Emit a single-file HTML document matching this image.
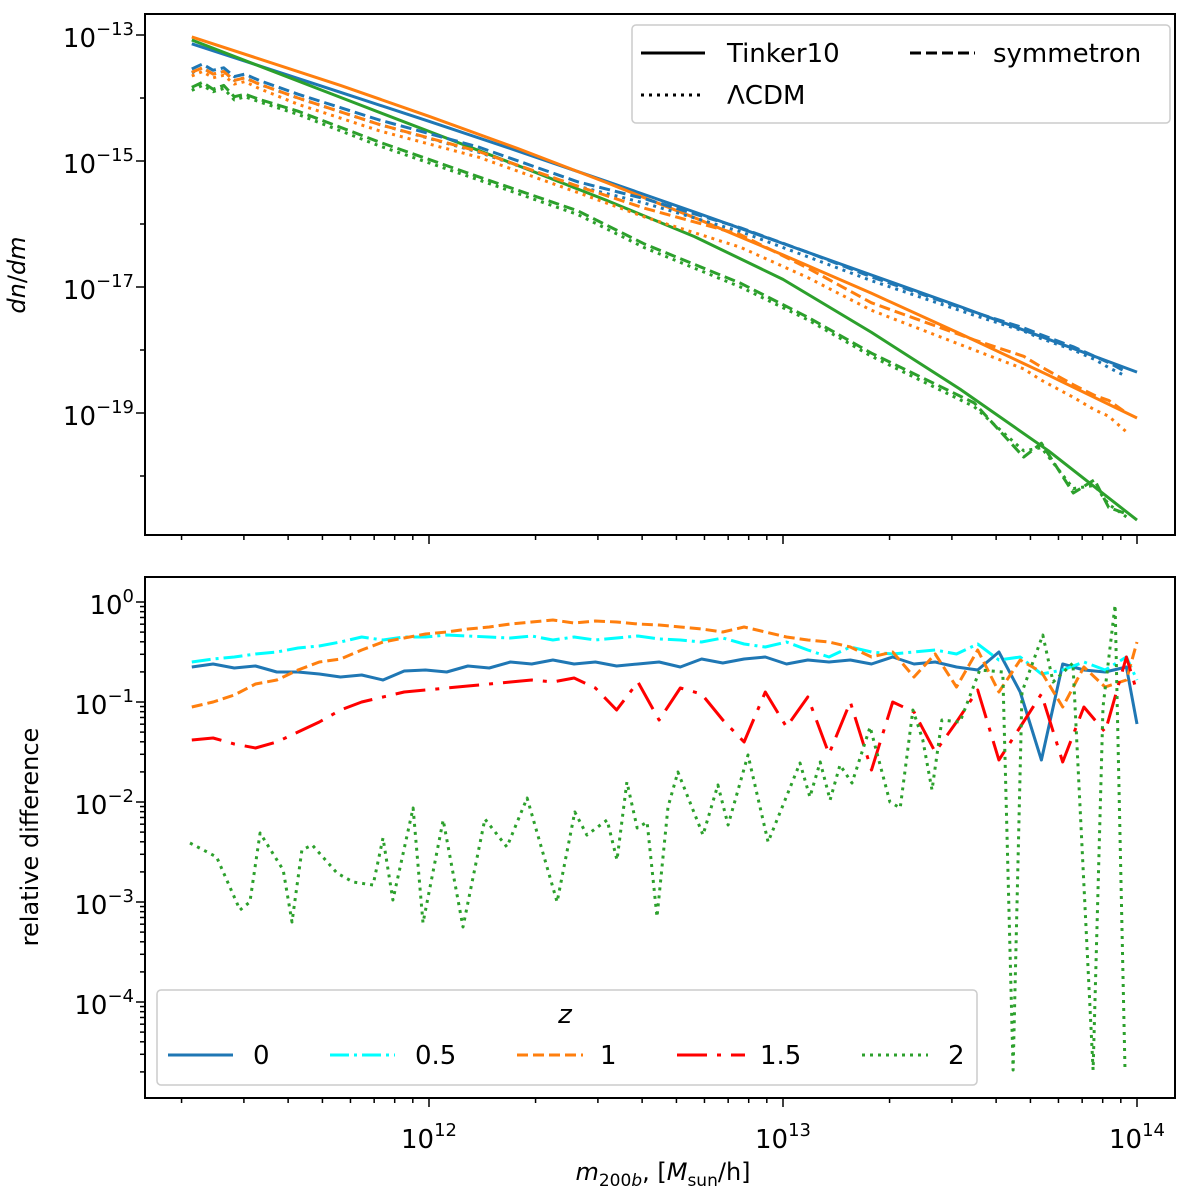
<!DOCTYPE html>
<html><head><meta charset="utf-8"><style>
body{margin:0;background:#fff}
svg{font-family:"DejaVu Sans","Liberation Sans",sans-serif}
</style></head><body>
<svg id="c" width="1200" height="1190" viewBox="0 0 1200 1190" xmlns="http://www.w3.org/2000/svg"></svg>
<script>
// ---- data ----
const tinkerMass=[11.33,11.75,12,12.25,12.5,12.75,13,13.25,13.5,13.75,14];
const tinkerZ0=[-13.14,-13.91,-14.37,-14.84,-15.32,-15.81,-16.31,-16.81,-17.31,-17.83,-18.35];
const tinkerZ1=[-13.03,-13.80,-14.29,-14.80,-15.34,-15.90,-16.49,-17.10,-17.74,-18.40,-19.08];
const tinkerZ2=[-13.08,-13.99,-14.53,-15.07,-15.62,-16.2,-16.88,-17.72,-18.62,-19.6,-20.7];
const simMass=[11.33,11.36,11.39,11.42,11.45,11.48,11.52,11.63,11.86,12.14,12.42,12.61,12.88,13.07,13.25,13.54,13.68,13.73,13.82,13.88,13.92,13.97];
const symZ0=[-13.54,-13.46,-13.56,-13.52,-13.66,-13.62,-13.72,-13.94,-14.35,-14.78,-15.33,-15.6,-16.06,-16.45,-16.84,-17.4,-17.65,-17.76,-17.95,-18.1,-18.2,-18.35];
const lcdmZ0=[-13.6,-13.52,-13.62,-13.58,-13.72,-13.68,-13.78,-14.0,-14.42,-14.86,-15.4,-15.67,-16.12,-16.52,-16.9,-17.45,-17.7,-17.82,-18.0,-18.15,-18.28,-18.42];
const symZ1=[-13.59,-13.52,-13.62,-13.58,-13.72,-13.68,-13.78,-14.0,-14.42,-14.85,-15.4,-15.75,-16.17,-16.7,-17.25,-17.84,-18.1,-18.27,-18.55,-18.72,-18.8,-19.0];
const lcdmZ1=[-13.65,-13.58,-13.68,-13.64,-13.78,-13.74,-13.85,-14.1,-14.52,-14.94,-15.5,-15.89,-16.37,-16.85,-17.37,-18.0,-18.3,-18.48,-18.75,-18.95,-19.05,-19.3];
const symZ2=[-13.83,-13.75,-13.86,-13.8,-13.98,-13.94,-14.02,-14.21,-14.7,-15.25,-15.79,-16.32,-16.94,-17.48,-18.05,-18.84,-19.7,-19.48,-20.27,-20.06,-20.5,-20.6];
const lcdmZ2=[-13.88,-13.8,-13.9,-13.85,-14.03,-13.98,-14.06,-14.26,-14.76,-15.3,-15.85,-16.38,-17.0,-17.52,-18.1,-18.9,-19.6,-19.55,-20.2,-20.15,-20.45,-20.65];
const relMass=[11.33,11.39,11.45,11.51,11.57,11.63,11.69,11.75,11.81,11.87,11.93,11.99,12.05,12.11,12.17,12.23,12.29,12.35,12.41,12.47,12.53,12.59,12.65,12.71,12.77,12.83,12.89,12.95,13.01,13.07,13.13,13.19,13.25,13.31,13.37,13.43,13.49,13.55,13.61,13.67,13.73,13.79,13.85,13.91,13.97,14.0];
const relZ0=[-0.65,-0.62,-0.66,-0.64,-0.70,-0.70,-0.72,-0.75,-0.73,-0.78,-0.69,-0.68,-0.70,-0.64,-0.66,-0.60,-0.62,-0.58,-0.62,-0.60,-0.64,-0.62,-0.60,-0.65,-0.57,-0.61,-0.57,-0.55,-0.62,-0.58,-0.60,-0.58,-0.62,-0.55,-0.62,-0.60,-0.65,-0.68,-0.50,-0.90,-1.58,-0.62,-0.68,-0.70,-0.65,-1.22];
const relZ05=[-0.60,-0.57,-0.55,-0.52,-0.50,-0.46,-0.44,-0.40,-0.35,-0.38,-0.35,-0.35,-0.33,-0.34,-0.35,-0.36,-0.34,-0.38,-0.35,-0.38,-0.36,-0.34,-0.37,-0.38,-0.40,-0.36,-0.42,-0.45,-0.40,-0.48,-0.55,-0.45,-0.50,-0.52,-0.50,-0.48,-0.52,-0.42,-0.58,-0.55,-0.72,-0.68,-0.60,-0.68,-0.55,-0.78];
const relZ1=[-1.05,-1.0,-0.93,-0.82,-0.78,-0.68,-0.60,-0.57,-0.48,-0.40,-0.36,-0.32,-0.30,-0.27,-0.25,-0.22,-0.20,-0.18,-0.21,-0.19,-0.20,-0.22,-0.23,-0.25,-0.27,-0.30,-0.25,-0.30,-0.35,-0.38,-0.40,-0.45,-0.55,-0.50,-0.75,-0.52,-0.85,-0.48,-0.90,-0.58,-0.70,-1.05,-0.65,-0.85,-0.78,-0.40];
const relZ15=[-1.38,-1.36,-1.42,-1.46,-1.40,-1.30,-1.20,-1.08,-1.00,-0.95,-0.90,-0.88,-0.86,-0.84,-0.82,-0.80,-0.78,-0.80,-0.76,-0.86,-1.08,-0.80,-1.18,-0.86,-0.92,-1.18,-1.40,-0.90,-1.25,-0.95,-1.52,-1.00,-1.68,-1.00,-1.10,-1.50,-1.20,-0.88,-1.58,-1.25,-0.92,-1.60,-1.05,-1.30,-0.55,-0.90];
const relMassZ2=[11.325,11.40,11.466,11.494,11.523,11.588,11.613,11.641,11.67,11.74,11.785,11.842,11.87,11.898,11.955,11.983,12.04,12.096,12.158,12.22,12.277,12.362,12.412,12.446,12.503,12.531,12.559,12.588,12.616,12.644,12.675,12.703,12.774,12.816,12.845,12.901,12.958,13.048,13.076,13.105,13.133,13.161,13.195,13.246,13.302,13.331,13.367,13.395,13.421,13.449,13.5,13.556,13.621,13.65,13.675,13.734,13.763,13.819,13.876,13.904,13.938,13.966];
const relZ2=[-2.41,-2.55,-3.08,-3.0,-2.31,-2.68,-3.2,-2.48,-2.43,-2.71,-2.8,-2.83,-2.36,-2.98,-2.06,-3.21,-2.18,-3.25,-2.17,-2.45,-1.96,-3.0,-2.1,-2.33,-2.18,-2.58,-1.8,-2.26,-2.2,-3.15,-2.05,-1.7,-2.33,-1.83,-2.23,-1.53,-2.4,-1.61,-1.95,-1.6,-1.98,-1.63,-1.81,-1.25,-2.0,-2.06,-1.08,-1.38,-1.88,-1.18,-1.2,-0.68,-0.7,-4.68,-0.9,-0.33,-0.8,-0.61,-4.68,-1.05,-0.03,-4.68];
const xTickExp=[12,13,14];
const topYTickExp=[-13,-15,-17,-19];
const botYTickExp=[0,-1,-2,-3,-4];

// ---- axes ----
const NS='http://www.w3.org/2000/svg';
const svg=document.getElementById('c');
const L=145,R=1175,T1=14,B1=535,T2=577,B2=1098;
const xs=m=>429+(m-12)*354;
const yTop=v=>35+(-13-v)*63;
const yBot=v=>602-v*100;
function mk(tag,attrs,parent){const e=document.createElementNS(NS,tag);for(const k in attrs)e.setAttribute(k,attrs[k]);(parent||svg).appendChild(e);return e;}
const clip=mk('defs',{});
const c1=mk('clipPath',{id:'cl1'},clip);mk('rect',{x:L,y:T1,width:R-L,height:B1-T1},c1);
const c2=mk('clipPath',{id:'cl2'},clip);mk('rect',{x:L,y:T2,width:R-L,height:B2-T2},c2);
const C='#1f77b4',O='#ff7f0e',G='#2ca02c',CY='#00ffff',RD='#ff0000';
const DASH='11,5',DOT='3,5',DASHDOT='19,5,3,5',LONGDD='30,10,4,10';
function line(xsArr,ys,yf,color,dash,name,clipId){
  const pts=xsArr.map((m,i)=>xs(m).toFixed(1)+','+yf(ys[i]).toFixed(1)).join(' ');
  const p=mk('polyline',{points:pts,fill:'none',stroke:color,'stroke-width':3,'stroke-dasharray':dash||'none','clip-path':'url(#'+clipId+')','stroke-linejoin':'round'});
  
  
}
function txt(x,y,s,size,anchor,name,extra){
  const t=mk('text',Object.assign({x:x,y:y,'font-size':size,'text-anchor':anchor||'start',fill:'#000'},extra||{}));
  t.innerHTML=s;
  
  
  return t;
}
// top series
line(tinkerMass,tinkerZ0,yTop,C,null,'tinker-z0','cl1');
line(tinkerMass,tinkerZ1,yTop,O,null,'tinker-z1','cl1');
line(tinkerMass,tinkerZ2,yTop,G,null,'tinker-z2','cl1');
line(simMass,symZ0,yTop,C,DASH,'symmetron-z0','cl1');
line(simMass,lcdmZ0,yTop,C,DOT,'lcdm-z0','cl1');
line(simMass,symZ1,yTop,O,DASH,'symmetron-z1','cl1');
line(simMass,lcdmZ1,yTop,O,DOT,'lcdm-z1','cl1');
line(simMass,symZ2,yTop,G,DASH,'symmetron-z2','cl1');
line(simMass,lcdmZ2,yTop,G,DOT,'lcdm-z2','cl1');
// bottom series
line(relMass,relZ0,yBot,C,null,'reldiff-z0','cl2');
line(relMass,relZ05,yBot,CY,DASHDOT,'reldiff-z0.5','cl2');
line(relMass,relZ1,yBot,O,DASH,'reldiff-z1','cl2');
line(relMass,relZ15,yBot,RD,LONGDD,'reldiff-z1.5','cl2');
line(relMassZ2,relZ2,yBot,G,DOT,'reldiff-z2','cl2');

// frames
[[T1,B1,'top-axes-frame'],[T2,B2,'bottom-axes-frame']].forEach(([t,b,n])=>{
  const r=mk('rect',{x:L,y:t,width:R-L,height:b-t,fill:'none',stroke:'#000','stroke-width':2});
  
});
// x ticks
for(let d=11;d<=14;d++){for(let k=1;k<10;k++){const m=d+Math.log10(k);const x=xs(m);if(x<L||x>R)continue;
  const len=k===1?9:5;
  mk('line',{x1:x,y1:B1,x2:x,y2:B1+len,stroke:'#000','stroke-width':1.5});
  mk('line',{x1:x,y1:B2,x2:x,y2:B2+len,stroke:'#000','stroke-width':1.5});}}
xTickExp.forEach(e=>{txt(xs(e),1148,'10<tspan font-size="18" dy="-12">'+e+'</tspan>',26,'middle','x-tick-label');});
// top y ticks
for(let e=-13;e>=-20;e--){const y=yTop(e);const major=topYTickExp.includes(e);
  mk('line',{x1:L,y1:y,x2:L-(major?9:5),y2:y,stroke:'#000','stroke-width':1.5});}
topYTickExp.forEach(e=>{txt(134,yTop(e)+12,'10<tspan font-size="18" dy="-12">−'+(-e)+'</tspan>',26,'end','top-y-tick-label');});
// bottom y ticks
for(let e=0;e>=-5;e--){for(let k=1;k<10;k++){const v=e+Math.log10(k);const y=yBot(v);if(y<T2||y>B2)continue;
  mk('line',{x1:L,y1:y,x2:L-(k===1?9:5),y2:y,stroke:'#000','stroke-width':1.5});}}
botYTickExp.forEach(e=>{txt(134,yBot(e)+12,'10<tspan font-size="18" dy="-12">'+(e===0?'0':'−'+(-e))+'</tspan>',26,'end','bottom-y-tick-label');});
// axis titles
txt(25,275,'<tspan font-style="italic">dn</tspan>/<tspan font-style="italic">dm</tspan>',24,'middle','top-y-axis-title',{transform:'rotate(-90 25 275)'});
txt(38,837,'relative difference',24,'middle','bottom-y-axis-title',{transform:'rotate(-90 38 837)'});
txt(663,1180,'<tspan font-style="italic">m</tspan><tspan font-size="17" dy="6">200<tspan font-style="italic">b</tspan></tspan><tspan dy="-6">, [</tspan><tspan font-style="italic">M</tspan><tspan font-size="17" dy="6">sun</tspan><tspan dy="-6">/h]</tspan>',24,'middle','x-axis-title');

// top legend
const lg1=mk('rect',{x:632,y:25,width:538,height:98,rx:4,fill:'#fff','fill-opacity':0.8,stroke:'#ccc','stroke-width':1.5});

function lgLine(x1,x2,y,color,dash,name){const l=mk('line',{x1:x1,y1:y,x2:x2,y2:y,stroke:color,'stroke-width':3,'stroke-dasharray':dash||'none'});}
lgLine(641,705,53,'#000',null,'legend-tinker10-line');txt(727,62,'Tinker10',26,'start','legend-tinker10-label');
lgLine(910,975,53,'#000',DASH,'legend-symmetron-line');txt(993,62,'symmetron',26,'start','legend-symmetron-label');
lgLine(641,705,95,'#000',DOT,'legend-lcdm-line');txt(727,104,'ΛCDM',26,'start','legend-lcdm-label');
// bottom legend
const lg2=mk('rect',{x:157,y:990,width:820,height:95,rx:4,fill:'#fff','fill-opacity':0.8,stroke:'#ccc','stroke-width':1.5});

txt(565,1023,'z',26,'middle','legend-title',{'font-style':'italic'});
lgLine(168,233,1055,C,null,'legend-z0-line');txt(253,1064,'0',26,'start','legend-z0-label');
lgLine(330,395,1055,CY,DASHDOT,'legend-z0.5-line');txt(415,1064,'0.5',26,'start','legend-z0.5-label');
lgLine(517,583,1055,O,DASH,'legend-z1-line');txt(600,1064,'1',26,'start','legend-z1-label');
lgLine(677,745,1055,RD,LONGDD,'legend-z1.5-line');txt(760,1064,'1.5',26,'start','legend-z1.5-label');
lgLine(862,928,1055,G,DOT,'legend-z2-line');txt(948,1064,'2',26,'start','legend-z2-label');
</script>
</body></html>
